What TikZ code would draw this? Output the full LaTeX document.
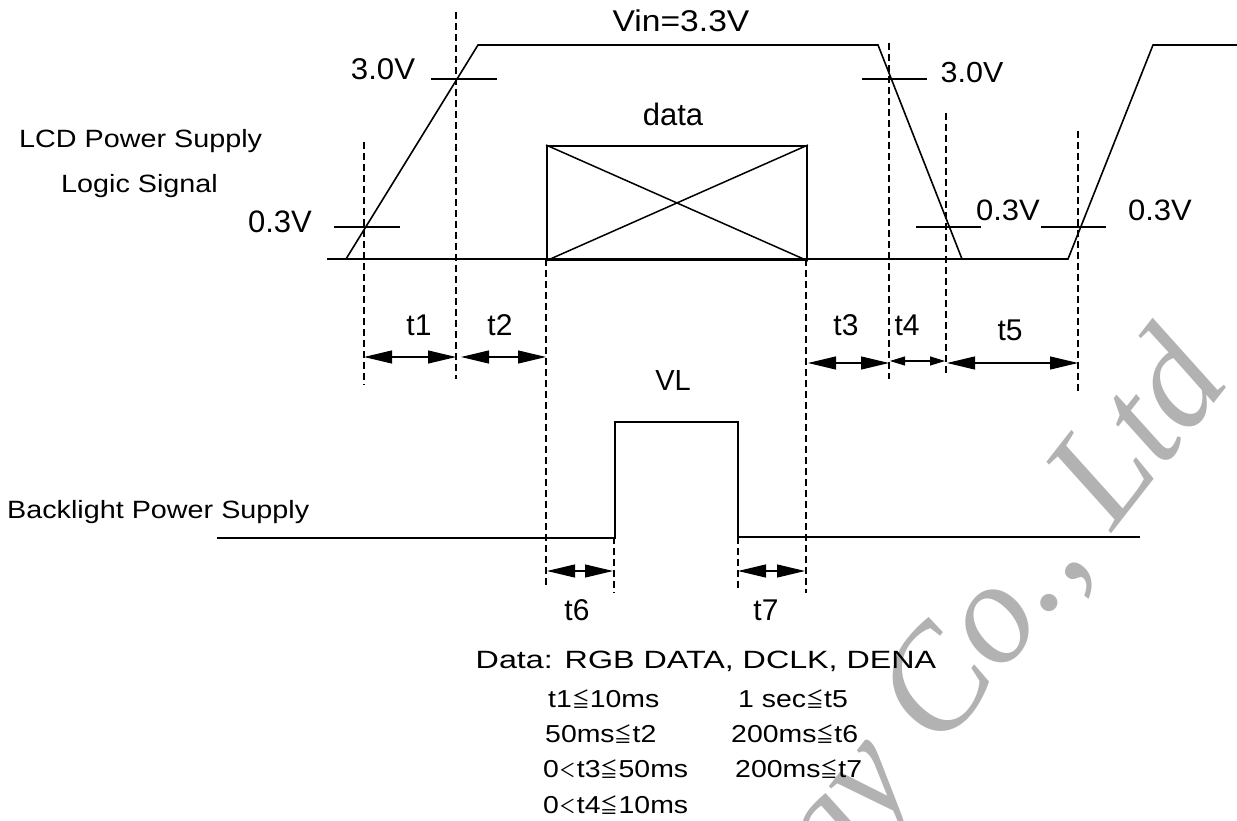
\documentclass[tikz,border=0pt]{standalone}
\usepackage{fontspec}
\usepackage{graphicx}
\setmainfont{Liberation Sans}
\newfontfamily\cjk{Noto Sans CJK SC}
\newfontfamily\wmfont{Liberation Serif}
\usetikzlibrary{arrows.meta}
\newcommand\fs[1]{\fontsize{#1}{#1}\selectfont}
\newcommand\tsc[3]{{\fs{#1}\scalebox{#2}[1]{#3}}}
\newcommand\mleq{\makebox[15.5pt]{\scalebox{0.72}[1]{\cjk\fs{21}≦}}}
\newcommand\mlt{\makebox[15.5pt]{\scalebox{0.75}[1]{\cjk\fs{19}＜}}}
\begin{document}
\begin{tikzpicture}[x=1pt,y=-1pt,
  sig/.style={line width=1.6pt, line join=miter},
  guide/.style={line width=1.4pt, dash pattern=on 7pt off 4pt},
  tickline/.style={line width=1.4pt},
  dimbig/.style={line width=1.1pt, {Triangle[length=28pt,width=13pt]}-{Triangle[length=28pt,width=13pt]}},
  dimsmall/.style={line width=1.1pt, {Triangle[length=15pt,width=9pt]}-{Triangle[length=15pt,width=9pt]}},
  lbl/.style={inner sep=0pt, anchor=base},
  lblw/.style={inner sep=0pt, anchor=base west},
  wm/.style={inner sep=0pt, text=black!30, rotate=52, anchor=base east}
  ]
\useasboundingbox (0,0) rectangle (1237,821);
% watermark
\node[wm] (wmark) at (1232,380) {\wmfont\itshape\fs{145}Technology Co., Ltd};

% LCD supply signal
\coordinate (a0) at (327,259);
\coordinate (a1) at (346,259);
\coordinate (a2) at (478,45);
\coordinate (a3) at (878,45);
\coordinate (a4) at (962,259);
\coordinate (a5) at (1068,259);
\coordinate (a6) at (1153,45);
\coordinate (a7) at (1237,45);
\draw[sig] (a0) -- (a1) -- (a2) -- (a3) -- (a4) -- (a5) -- (a6) -- (a7);
\draw[sig] (a1) -- (a4);

% data box
\node[draw, line width=1.9pt, minimum width=260pt, minimum height=114pt, inner sep=0pt, anchor=north west] (box) at (546,145) {};
\draw[line width=1.5pt] (box.north west) -- (box.south east);
\draw[line width=1.5pt] (box.south west) -- (box.north east);

% threshold ticks
\draw[tickline] (334,227) -- (400,227);
\draw[tickline] (431,79) -- (497,79);
\draw[tickline] (862,79) -- (927,79);
\draw[tickline] (916,227) -- (981,227);
\draw[tickline] (1041,227) -- (1106,227);

% guides
\draw[guide] (364,142) -- (364,385);
\draw[guide] (456,12) -- (456,379);
\draw[guide] (546,259) -- (546,587);
\draw[guide] (806,259) -- (806,593);
\draw[guide] (889,43) -- (889,379);
\draw[guide] (946,113) -- (946,376);
\draw[guide] (1078,131) -- (1078,393);
\draw[guide] (614,537) -- (614,593);
\draw[guide] (738,537) -- (738,590);

% backlight pulse
\coordinate (b0) at (217,538);
\coordinate (b1) at (615,538);
\coordinate (b2) at (615,422);
\coordinate (b3) at (738,422);
\coordinate (b4) at (738,537);
\coordinate (b5) at (1140,537);
\draw[sig] (b0) -- (b1) -- (b2) -- (b3) -- (b4) -- (b5);

% dimension arrows
\coordinate (t1l) at (364,357); \coordinate (t1r) at (456,357);
\coordinate (t2l) at (461,357); \coordinate (t2r) at (546,357);
\coordinate (t3l) at (808,363); \coordinate (t3r) at (889,363);
\coordinate (t4l) at (890,361); \coordinate (t4r) at (945,361);
\coordinate (t5l) at (947,363); \coordinate (t5r) at (1078,363);
\coordinate (t6l) at (547,571); \coordinate (t6r) at (613,571);
\coordinate (t7l) at (738,571); \coordinate (t7r) at (805,571);
\draw[dimbig] (t1l) -- (t1r);
\draw[dimbig] (t2l) -- (t2r);
\draw[dimbig] (t3l) -- (t3r);
\draw[dimsmall] (t4l) -- (t4r);
\draw[dimbig] (t5l) -- (t5r);
\draw[dimbig] (t6l) -- (t6r);
\draw[dimbig] (t7l) -- (t7r);

% labels
\node[lbl] (vin) at (681,32) {\tsc{30}{1.12}{Vin=3.3V}};
\node[lbl] (v30l) at (383,80) {\tsc{30}{1.04}{3.0V}};
\node[lbl] (v30r) at (972,83) {\tsc{29}{1.05}{3.0V}};
\node[lbl] (data) at (673,126) {\tsc{31}{1}{data}};
\node[lblw] (lcd) at (19,148) {\tsc{25}{1.15}{LCD Power Supply}};
\node[lblw] (logic) at (61,193) {\tsc{25}{1.15}{Logic Signal}};
\node[lbl] (v03l) at (280,233) {\tsc{31}{1}{0.3V}};
\node[lbl] (v03a) at (1008,221) {\tsc{29.5}{1.05}{0.3V}};
\node[lbl] (v03b) at (1160,221) {\tsc{29.5}{1.05}{0.3V}};
\node[lbl] (lt1) at (419,335) {\tsc{30}{1}{t1}};
\node[lbl] (lt2) at (500,335) {\tsc{30}{1}{t2}};
\node[lbl] (lt3) at (846,335) {\tsc{30}{1}{t3}};
\node[lbl] (lt4) at (907,335) {\tsc{30}{1}{t4}};
\node[lbl] (lt5) at (1010,340) {\tsc{30}{1}{t5}};
\node[lbl] (vl) at (673,390) {\tsc{29}{1}{VL}};
\node[lblw] (bl) at (7,518) {\tsc{25}{1.15}{Backlight Power Supply}};
\node[lbl] (lt6) at (577,620) {\tsc{30}{1}{t6}};
\node[lbl] (lt7) at (766,620) {\tsc{30}{1}{t7}};
\node[lbl] (dline) at (706,668) {\tsc{25}{1.29}{Data: RGB DATA, DCLK, DENA}};
\node[lblw] (c1) at (548,707) {\tsc{24.5}{1.16}{t1\mleq10ms}};
\node[lblw] (c2) at (545,742) {\tsc{24.5}{1.16}{50ms\mleq t2}};
\node[lblw] (c3) at (543,777) {\tsc{24.5}{1.16}{0\mlt t3\mleq50ms}};
\node[lblw] (c4) at (543,813) {\tsc{24.5}{1.16}{0\mlt t4\mleq10ms}};
\node[lblw] (c5) at (738,707) {\tsc{24.5}{1.16}{1 sec\mleq t5}};
\node[lblw] (c6) at (731,742) {\tsc{24.5}{1.16}{200ms\mleq t6}};
\node[lblw] (c7) at (735,777) {\tsc{24.5}{1.16}{200ms\mleq t7}};
\end{tikzpicture}
\end{document}
